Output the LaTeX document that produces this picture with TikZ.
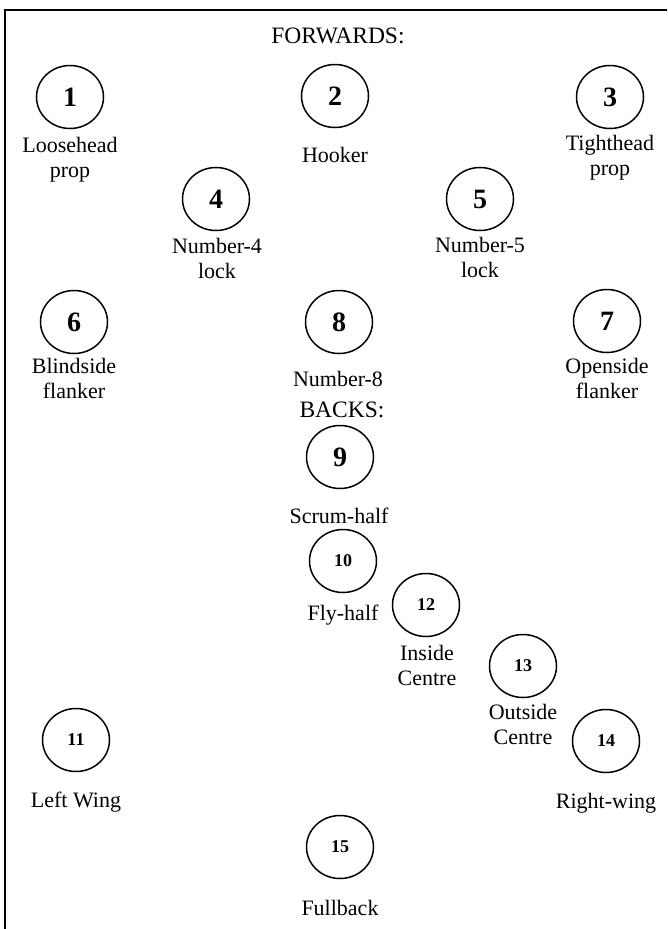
\documentclass[tikz,border=0pt]{standalone}
\usepackage{fontspec}
\setmainfont{Liberation Serif}
\usetikzlibrary{shapes.geometric}
\newcommand{\twoline}[2]{\begin{tabular}[t]{@{}c@{}}#1\\#2\end{tabular}}
\tikzset{
  player/.style={ellipse, draw, line width=1.5pt, minimum width=67pt, minimum height=63pt, inner sep=0pt},
  fwd/.style={player, font=\fontsize{28}{30}\selectfont\bfseries},
  bck/.style={player, font=\fontsize{18}{20}\selectfont\bfseries},
  lbl/.style={anchor=base, inner sep=0pt, font=\fontsize{22}{25}\selectfont},
  hdr/.style={anchor=base, inner sep=0pt, font=\fontsize{23.5}{26}\selectfont}
}
\begin{document}
\begin{tikzpicture}[x=1pt,y=-1pt]
\useasboundingbox (0,0) rectangle (667,929);
\begin{scope}
\clip (0,0) rectangle (667,929);
\draw[line width=2pt] (5,9.5) rectangle (680,940);
\end{scope}
% headers
\node[hdr] (forwards) at (338,43) {FORWARDS:};
\node[hdr] (backs) at (342,417) {BACKS:};
% forwards
\node[fwd] (p1) at (70,97) {1};
\node[lbl] (l1) at (70,152) {\twoline{Loosehead}{prop}};
\node[fwd] (p2) at (335,96) {2};
\node[lbl] (l2) at (335,162) {Hooker};
\node[fwd] (p3) at (610,97) {3};
\node[lbl] (l3) at (610,150) {\twoline{Tighthead}{prop}};
\node[fwd] (p4) at (216,199) {4};
\node[lbl] (l4) at (217,253) {\twoline{Number-4}{lock}};
\node[fwd] (p5) at (480,199) {5};
\node[lbl] (l5) at (480,252) {\twoline{Number-5}{lock}};
\node[fwd] (p6) at (74,322) {6};
\node[lbl] (l6) at (74,373) {\twoline{Blindside}{flanker}};
\node[fwd] (p8) at (339,322) {8};
\node[lbl] (l8) at (338,386) {Number-8};
\node[fwd] (p7) at (607,321) {7};
\node[lbl] (l7) at (607,373) {\twoline{Openside}{flanker}};
% backs
\node[fwd] (p9) at (340,457) {9};
\node[lbl] (l9) at (339,523) {Scrum-half};
\node[bck] (p10) at (343,561) {10};
\node[lbl] (l10) at (343,620) {Fly-half};
\node[bck] (p12) at (426,605) {12};
\node[lbl] (l12) at (427,660) {\twoline{Inside}{Centre}};
\node[bck] (p13) at (523,666) {13};
\node[lbl] (l13) at (523,719) {\twoline{Outside}{Centre}};
\node[bck] (p14) at (606,741) {14};
\node[lbl] (l14) at (606,808) {Right-wing};
\node[bck] (p11) at (76,740) {11};
\node[lbl] (l11) at (76,807) {Left Wing};
\node[bck] (p15) at (340,847) {15};
\node[lbl] (l15) at (340,915) {Fullback};
\end{tikzpicture}
\end{document}
